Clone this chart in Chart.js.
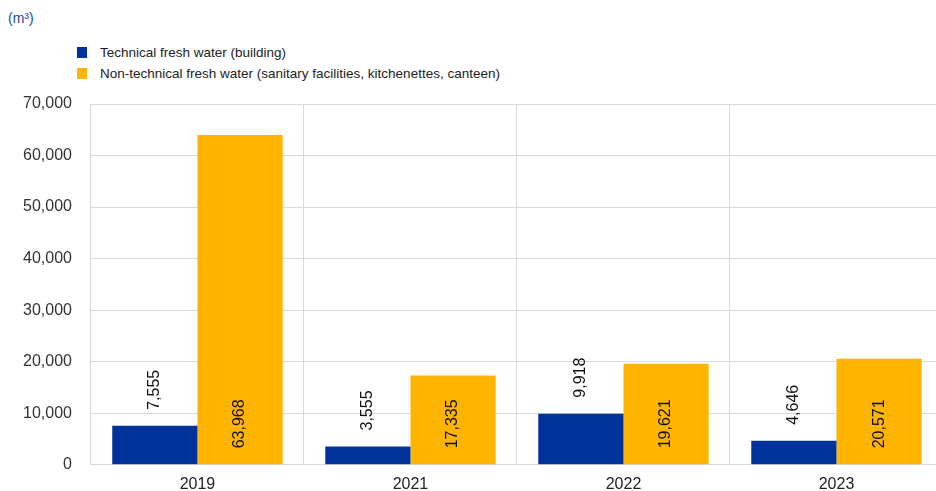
<!DOCTYPE html>
<html>
<head>
<meta charset="utf-8">
<script src="https://cdn.jsdelivr.net/npm/chart.js@4.4.1/dist/chart.umd.min.js"></script>
<style>
  html, body { margin: 0; padding: 0; background: #fff; overflow: hidden; }
  body { width: 936px; height: 491px; position: relative; font-family: "Liberation Sans", Arial, sans-serif; }
  #unit { position: absolute; left: 8px; top: 10px; font-size: 14px; color: #1a49a8; }
  #legend { position: absolute; left: 77px; top: 43px; font-size: 13.5px; color: #222; }
  #legend .item { height: 21px; line-height: 19px; white-space: nowrap; }
  #legend .box { display: inline-block; width: 10px; height: 11px; margin-right: 13px; vertical-align: -1px; }
  #wrap { position: absolute; left: 0; top: 0; width: 943px; height: 504px; }
</style>
</head>
<body>
<div id="unit">(m³)</div>
<div id="legend"></div>
<div id="wrap"><canvas id="waterChart"></canvas></div>
<script>
// =============== DATA ===============
const years = ['2019', '2021', '2022', '2023'];
const technicalWater = [7555, 3555, 9918, 4646];
const nonTechnicalWater = [63968, 17335, 19621, 20571];
const seriesNames = [
  'Technical fresh water (building)',
  'Non-technical fresh water (sanitary facilities, kitchenettes, canteen)'
];
const yTicks = [0, 10000, 20000, 30000, 40000, 50000, 60000, 70000];

const colorBlue = '#003299';
const colorOrange = '#ffb400';
const gridColor = '#d9d9d9';
const fontFamily = "'Liberation Sans', Arial, sans-serif";

// legend di luar canvas (dua baris, rata kiri)
const legendEl = document.getElementById('legend');
[colorBlue, colorOrange].forEach((c, i) => {
  const row = document.createElement('div');
  row.className = 'item';
  row.innerHTML = '<span class="box" style="background:' + c + '"></span>' + seriesNames[i];
  legendEl.appendChild(row);
});

// label angka vertikal di atas / di dalam batang
const barLabels = {
  id: 'barLabels',
  afterDatasetsDraw(chart) {
    const ctx = chart.ctx;
    ctx.save();
    ctx.font = '16px ' + fontFamily;
    ctx.fillStyle = '#111';
    ctx.textAlign = 'left';
    ctx.textBaseline = 'middle';
    chart.data.datasets.forEach((ds, di) => {
      const meta = chart.getDatasetMeta(di);
      meta.data.forEach((bar, i) => {
        const txt = ds.data[i].toLocaleString('en-US');
        const startY = di === 0 ? bar.y - 16 : bar.base - 16;
        ctx.save();
        ctx.translate(bar.x, startY);
        ctx.rotate(-Math.PI / 2);
        ctx.fillText(txt, 0, 0);
        ctx.restore();
      });
    });
    ctx.restore();
  }
};

const ctx = document.getElementById('waterChart').getContext('2d');
new Chart(ctx, {
  type: 'bar',
  data: {
    labels: years,
    datasets: [
      { label: seriesNames[0], data: technicalWater, backgroundColor: colorBlue, borderWidth: 0 },
      { label: seriesNames[1], data: nonTechnicalWater, backgroundColor: colorOrange, borderWidth: 0 }
    ]
  },
  options: {
    responsive: true,
    maintainAspectRatio: false,
    animation: false,
    layout: { padding: { left: 4, top: 104, right: 0, bottom: 0 } },
    datasets: { bar: { categoryPercentage: 0.8, barPercentage: 1.0 } },
    plugins: {
      legend: { display: false },
      tooltip: { enabled: false }
    },
    scales: {
      x: {
        grid: { color: gridColor, drawTicks: false, offset: true },
        border: { color: gridColor },
        ticks: { color: '#222', padding: 10, font: { family: fontFamily, size: 16 } }
      },
      y: {
        min: 0,
        max: 70000,
        afterBuildTicks: (axis) => { axis.ticks = yTicks.map(v => ({ value: v })); },
        grid: { color: gridColor, drawTicks: false },
        border: { color: gridColor },
        ticks: {
          color: '#333',
          padding: 19,
          font: { family: fontFamily, size: 16 },
          callback: (v) => v.toLocaleString('en-US')
        }
      }
    }
  },
  plugins: [barLabels]
});
</script>
</body>
</html>
